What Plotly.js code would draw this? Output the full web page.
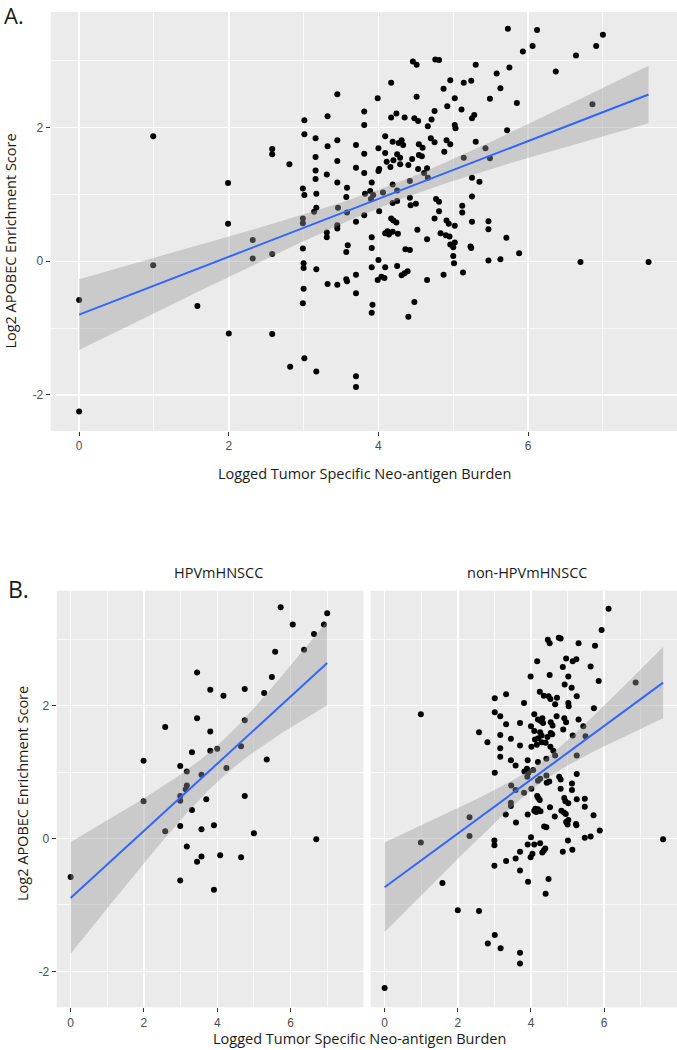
<!DOCTYPE html>
<html>
<head>
<meta charset="utf-8">
<script src="https://cdn.plot.ly/plotly-3.0.1.min.js"></script>
<style>
html,body{margin:0;padding:0;background:#fff;}
#chart{width:677px;height:1050px;}
</style>
</head>
<body>
<div id="chart"></div>
<script>
// ---- Data ----
const xTickVals = [0, 2, 4, 6];
const xTickText = ["0", "2", "4", "6"];
const yTickVals = [-2, 0, 2];
const yTickText = ["-2", "0", "2"];
const facetNames = ["HPVmHNSCC", "non-HPVmHNSCC"];

const hpvX = [5.73,7.00,6.06,6.91,6.64,5.58,6.37,3.45,5.49,3.81,
              4.75,4.17,5.28,3.45,4.75,2.58,3.81,3.31,3.81,4.00,
              4.65,5.35,1.99,2.99,3.17,4.25,3.57,3.17,3.14,2.99,
              2.99,3.70,4.75,1.99,3.31,2.99,3.91,2.58,3.57,5.00,
              6.70,3.17,4.08,3.57,3.45,4.65,0.00,2.99,3.91];
const hpvY = [3.48,3.39,3.22,3.22,3.08,2.81,2.84,2.50,2.43,2.24,
              2.25,2.15,2.19,1.81,1.78,1.68,1.61,1.30,1.32,1.35,
              1.39,1.19,1.17,1.09,1.01,1.06,0.96,0.80,0.74,0.64,
              0.57,0.59,0.64,0.56,0.43,0.19,0.20,0.11,0.14,0.08,
              -0.01,-0.12,-0.25,-0.27,-0.35,-0.28,-0.58,-0.63,-0.77];

const nonX = [0.00,0.99,0.99,1.58,2.00,2.58,2.32,2.32,3.01,2.82,
              3.17,3.70,3.70,7.61,6.86,6.12,5.93,5.75,5.85,5.72,
              5.63,5.88,5.71,5.63,5.47,5.47,5.47,5.43,5.49,5.30,
              5.24,5.14,4.96,4.87,5.02,4.92,5.11,5.25,5.02,5.03,
              4.81,4.76,4.46,4.51,4.17,3.99,4.51,4.24,4.35,4.48,
              4.53,4.71,3.81,3.32,3.01,3.01,3.16,3.32,2.58,2.81,
              3.16,3.16,3.16,3.01,3.45,3.45,3.58,3.70,3.70,4.00,
              4.09,4.66,4.19,4.31,4.27,4.33,4.70,4.91,4.96,5.30,
              4.54,4.59,4.09,4.25,4.29,4.54,4.58,4.88,5.14,4.01,
              4.11,4.20,4.29,4.40,4.53,4.61,3.91,4.19,4.42,4.66,
              5.25,3.82,3.89,3.93,4.06,3.90,4.25,4.19,4.42,4.77,
              4.81,5.25,3.46,3.58,3.81,4.01,4.43,4.50,4.81,5.12,
              5.12,3.45,3.45,3.31,3.59,3.91,4.17,4.20,4.24,4.09,
              4.14,4.19,4.26,4.12,4.52,4.65,4.83,4.90,4.95,4.91,
              4.94,5.02,5.25,4.96,5.00,5.02,5.23,5.24,4.36,4.42,
              5.01,4.00,3.91,4.09,4.25,3.70,3.99,4.04,4.31,4.35,
              4.39,4.87,5.13,3.32,3.58,3.00,3.70,4.48,3.92,4.40,
              3.00,3.00,4.16,4.45];
const nonY = [-2.25,1.87,-0.06,-0.67,-1.08,-1.09,0.32,0.04,-1.45,-1.58,
              -1.65,-1.72,-1.88,-0.01,2.35,3.46,3.14,2.90,2.37,1.96,
              2.59,0.12,0.35,0.03,0.01,0.48,0.60,1.69,1.54,2.94,
              2.70,2.67,2.71,2.58,2.44,2.32,2.27,2.14,2.04,1.99,
              3.01,3.02,2.99,2.94,2.67,2.44,2.46,2.21,2.15,2.14,
              2.10,2.12,2.04,2.17,2.11,1.90,1.84,1.72,1.60,1.45,
              1.56,1.36,1.23,0.99,1.50,1.18,1.10,1.74,1.40,1.69,
              1.87,2.02,1.79,1.81,1.77,1.74,1.84,1.81,1.75,1.79,
              1.75,1.70,1.62,1.60,1.55,1.59,1.57,1.64,1.55,1.38,
              1.49,1.51,1.45,1.44,1.38,1.32,1.18,1.15,1.20,1.25,
              1.25,1.01,1.05,0.99,1.03,0.93,0.90,0.87,0.95,0.93,
              0.89,0.97,0.80,0.73,0.69,0.75,0.84,0.86,0.75,0.83,
              0.73,0.54,0.49,0.36,0.24,0.36,0.64,0.61,0.58,0.42,
              0.40,0.44,0.41,0.45,0.47,0.33,0.42,0.39,0.37,0.61,
              0.56,0.53,0.59,0.25,0.21,0.28,0.22,0.20,0.18,0.17,
              -0.03,0.02,-0.09,-0.09,-0.07,-0.20,-0.28,-0.23,-0.21,-0.18,
              -0.15,-0.20,-0.17,-0.34,-0.30,-0.41,-0.48,-0.61,-0.65,-0.83,
              -0.03,-0.10,1.41,1.53];

const allX = hpvX.concat(nonX);
const allY = hpvY.concat(nonY);

// ---- Linear fit with 95% confidence band (like geom_smooth(method='lm')) ----
function lmFit(x, y) {
  const n = Math.min(x.length, y.length);
  let mx = 0, my = 0;
  for (let i = 0; i < n; i++) { mx += x[i]; my += y[i]; }
  mx /= n; my /= n;
  let sxx = 0, sxy = 0;
  for (let i = 0; i < n; i++) { sxx += (x[i]-mx)*(x[i]-mx); sxy += (x[i]-mx)*(y[i]-my); }
  const b = sxy / sxx, a = my - b * mx;
  let sse = 0;
  for (let i = 0; i < n; i++) { const r = y[i] - (a + b * x[i]); sse += r * r; }
  const s2 = sse / (n - 2);
  const t = 1.96 + 2.4 / (n - 2);
  const xmin = Math.min(...x.slice(0, n)), xmax = Math.max(...x.slice(0, n));
  const gx = [], gy = [], lo = [], hi = [];
  const m = 80;
  for (let k = 0; k < m; k++) {
    const xv = xmin + (xmax - xmin) * k / (m - 1);
    const yv = a + b * xv;
    const se = Math.sqrt(s2 * (1 / n + (xv - mx) * (xv - mx) / sxx));
    gx.push(xv); gy.push(yv); lo.push(yv - t * se); hi.push(yv + t * se);
  }
  return {gx, gy, lo, hi};
}

function panelTraces(x, y, xa, ya) {
  const f = lmFit(x, y);
  return [
    {type: 'scatter', mode: 'markers', x: x, y: y, xaxis: xa, yaxis: ya,
     marker: {color: '#000000', size: 6}, hoverinfo: 'skip', showlegend: false},
    {type: 'scatter', mode: 'lines', x: f.gx.concat(f.gx.slice().reverse()),
     y: f.hi.concat(f.lo.slice().reverse()), xaxis: xa, yaxis: ya,
     fill: 'toself', fillcolor: 'rgba(153,153,153,0.4)', line: {width: 0},
     hoverinfo: 'skip', showlegend: false},
    {type: 'scatter', mode: 'lines', x: f.gx, y: f.gy, xaxis: xa, yaxis: ya,
     line: {color: '#3366FF', width: 2}, hoverinfo: 'skip', showlegend: false}
  ];
}

const traces = []
  .concat(panelTraces(allX, allY, 'x', 'y'))
  .concat(panelTraces(hpvX, hpvY, 'x2', 'y2'))
  .concat(panelTraces(nonX, nonY, 'x3', 'y3'));

const W = 677, H = 1050;
const px = v => v / W;
const py = v => 1 - v / H;

const tickFont = {family: 'Liberation Sans, Arial, sans-serif', size: 12, color: '#4D4D4D'};
const xRange = [-0.38, 7.99];
const yRange = [-2.54, 3.73];

function xAxis(dom, anchor) {
  return {domain: dom, anchor: anchor, range: xRange, tickmode: 'array',
    tickvals: xTickVals, ticktext: xTickText,
    ticks: 'outside', ticklen: 4, tickcolor: '#333333', tickwidth: 1,
    tickfont: tickFont, showgrid: true, gridcolor: '#FFFFFF', gridwidth: 1.5,
    minor: {dtick: 1, tick0: 0, showgrid: true, gridcolor: '#FFFFFF', gridwidth: 0.7, ticks: ''},
    zeroline: false, showline: false, fixedrange: true};
}
function yAxis(dom, anchor, labels) {
  return {domain: dom, anchor: anchor, range: yRange, tickmode: 'array',
    tickvals: yTickVals, ticktext: yTickText,
    ticks: labels ? 'outside' : '', ticklen: 4, tickcolor: '#333333', tickwidth: 1,
    showticklabels: labels, tickfont: tickFont,
    showgrid: true, gridcolor: '#FFFFFF', gridwidth: 1.5,
    minor: {dtick: 1, tick0: 0, showgrid: true, gridcolor: '#FFFFFF', gridwidth: 0.7, ticks: ''},
    zeroline: false, showline: false, fixedrange: true};
}

const titleFont = {family: 'Open Sans, sans-serif', size: 14.5, color: '#1A1A1A'};

const layout = {
  width: W, height: H,
  margin: {l: 0, r: 0, t: 0, b: 0, pad: 0},
  paper_bgcolor: '#FFFFFF',
  plot_bgcolor: '#EBEBEB',
  showlegend: false,
  xaxis: xAxis([px(50.7), 1], 'y'),
  yaxis: yAxis([py(431), py(12)], 'x', true),
  xaxis2: xAxis([px(56.7), px(363.5)], 'y2'),
  yaxis2: yAxis([py(1007.3), py(590.7)], 'x2', true),
  xaxis3: xAxis([px(370.7), 1], 'y3'),
  yaxis3: yAxis([py(1007.3), py(590.7)], 'x3', false),
  annotations: [
    {text: 'A.', x: px(3), y: py(15), xref: 'paper', yref: 'paper', xanchor: 'left', yanchor: 'middle',
     showarrow: false, borderpad: 0, font: {family: 'Open Sans, sans-serif', size: 22, color: '#1A1A1A'}},
    {text: 'B.', x: px(6), y: py(589), xref: 'paper', yref: 'paper', xanchor: 'left', yanchor: 'middle',
     showarrow: false, font: {family: 'Open Sans, sans-serif', size: 23, color: '#1A1A1A'}},
    {text: 'Log2 APOBEC Enrichment Score', textangle: -90, x: px(11), y: py(241.6),
     xref: 'paper', yref: 'paper', xanchor: 'center', yanchor: 'middle', showarrow: false, font: titleFont},
    {text: 'Logged Tumor Specific Neo-antigen Burden', x: px(364), y: py(473),
     xref: 'paper', yref: 'paper', xanchor: 'center', yanchor: 'middle', showarrow: false, font: titleFont},
    {text: facetNames[0], x: px(219), y: py(572), xref: 'paper', yref: 'paper',
     xanchor: 'center', yanchor: 'middle', showarrow: false, font: titleFont},
    {text: facetNames[1], x: px(527), y: py(572), xref: 'paper', yref: 'paper',
     xanchor: 'center', yanchor: 'middle', showarrow: false, font: titleFont},
    {text: 'Log2 APOBEC Enrichment Score', textangle: -90, x: px(22), y: py(794),
     xref: 'paper', yref: 'paper', xanchor: 'center', yanchor: 'middle', showarrow: false, font: titleFont},
    {text: 'Logged Tumor Specific Neo-antigen Burden', x: px(359), y: py(1049),
     xref: 'paper', yref: 'paper', xanchor: 'center', yanchor: 'bottom', borderpad: 0,
     showarrow: false, font: titleFont}
  ]
};

Plotly.newPlot('chart', traces, layout, {staticPlot: true, displayModeBar: false});
</script>
</body>
</html>
